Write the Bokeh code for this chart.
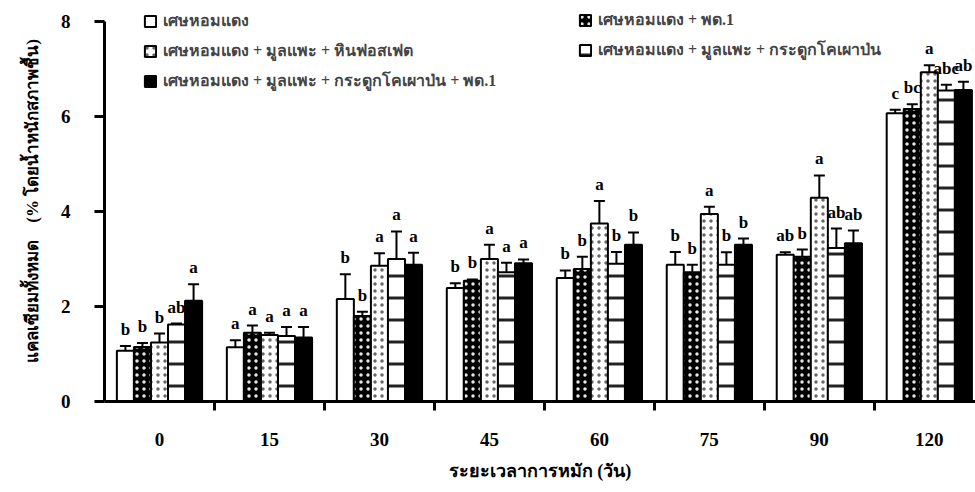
from bokeh.plotting import figure
from bokeh.models import (ColumnDataSource, Range1d, FixedTicker, Whisker, TeeHead,
                          Legend, LegendItem)
from bokeh.embed import file_html
from bokeh.resources import INLINE

# Composting time (days)
days = ["0", "15", "30", "45", "60", "75", "90", "120"]

series_names = [
    "เศษหอมแดง",
    "เศษหอมแดง + พด.1",
    "เศษหอมแดง + มูลแพะ + หินฟอสเฟต",
    "เศษหอมแดง + มูลแพะ + กระดูกโคเผาป่น",
    "เศษหอมแดง + มูลแพะ + กระดูกโคเผาป่น + พด.1",
]

# Total calcium (% wet weight), standard error and significance letters
onion_mean = [1.07, 1.14, 2.16, 2.39, 2.60, 2.88, 3.09, 6.07]
onion_err = [0.10, 0.15, 0.52, 0.10, 0.16, 0.27, 0.05, 0.07]
onion_sig = ["b", "a", "b", "b", "b", "b", "ab", "c"]

onion_pd_mean = [1.15, 1.45, 1.80, 2.54, 2.79, 2.72, 3.05, 6.16]
onion_pd_err = [0.08, 0.15, 0.09, 0.03, 0.26, 0.16, 0.15, 0.10]
onion_pd_sig = ["b", "a", "b", "b", "b", "b", "b", "bc"]

rock_mean = [1.24, 1.40, 2.86, 3.00, 3.75, 3.95, 4.29, 6.93]
rock_err = [0.19, 0.05, 0.26, 0.30, 0.47, 0.15, 0.47, 0.15]
rock_sig = ["b", "a", "a", "a", "a", "a", "a", "a"]

bone_mean = [1.62, 1.38, 3.00, 2.72, 2.90, 2.88, 3.23, 6.55]
bone_err = [0.02, 0.19, 0.58, 0.20, 0.25, 0.26, 0.41, 0.12]
bone_sig = ["ab", "a", "a", "a", "b", "b", "ab", "abc"]

bone_pd_mean = [2.12, 1.35, 2.88, 2.91, 3.30, 3.30, 3.33, 6.56]
bone_pd_err = [0.35, 0.22, 0.25, 0.08, 0.26, 0.13, 0.27, 0.17]
bone_pd_sig = ["a", "a", "a", "a", "b", "b", "ab", "ab"]

y_ticks = [0, 2, 4, 6, 8]

means = [onion_mean, onion_pd_mean, rock_mean, bone_mean, bone_pd_mean]
errs = [onion_err, onion_pd_err, rock_err, bone_err, bone_pd_err]
sigs = [onion_sig, onion_pd_sig, rock_sig, bone_sig, bone_pd_sig]

# bar styles: fill, hatch pattern, hatch colour, hatch scale, hatch weight
styles = [
    dict(fill_color="white", hatch_pattern=" ", hatch_color="white", hatch_scale=7, hatch_weight=1),
    dict(fill_color="black", hatch_pattern="dot", hatch_color="#e8e8e8", hatch_scale=7, hatch_weight=1),
    dict(fill_color="white", hatch_pattern="dot", hatch_color="#666666", hatch_scale=7, hatch_weight=1),
    dict(fill_color="white", hatch_pattern="horizontal_line", hatch_color="#222222", hatch_scale=22, hatch_weight=3),
    dict(fill_color="black", hatch_pattern=" ", hatch_color="black", hatch_scale=7, hatch_weight=1),
]

NUM_FONT = "Liberation Serif"
BAR_W = 0.155
offsets = [-2 * BAR_W, -BAR_W, 0.0, BAR_W, 2 * BAR_W]

# the frame runs to the top edge so the legend has room; the y axis line stops at 8
p = figure(width=975, height=492, x_range=Range1d(0, 7.92), y_range=Range1d(0, 8 * 401 / 380),
           output_backend="svg", toolbar_location=None,
           min_border_left=104, min_border_right=0, min_border_top=0, min_border_bottom=91)
p.outline_line_color = None
p.grid.visible = False
p.background_fill_color = "white"
p.border_fill_color = "white"

renderers = []
for k in range(5):
    xs = [i + 0.5 + offsets[k] for i in range(len(days))]
    src = ColumnDataSource(dict(
        x=xs, top=means[k],
        upper=[m + e for m, e in zip(means[k], errs[k])],
        lower=[m - e for m, e in zip(means[k], errs[k])],
        sig=sigs[k],
    ))
    r = p.vbar(x="x", top="top", bottom=0, width=BAR_W, source=src,
               line_color="black", line_width=2, **styles[k])
    renderers.append(r)
    w = Whisker(base="x", upper="upper", lower="lower", source=src, dimension="height",
                line_color="black", line_width=2,
                upper_head=TeeHead(size=11, line_width=2, line_color="black"),
                lower_head=TeeHead(size=11, line_width=2, line_color="black"))
    p.add_layout(w)
    p.text(x="x", y="upper", text="sig", source=src, text_align="center",
           text_baseline="bottom", y_offset=-7, text_font=NUM_FONT,
           text_font_style="bold", text_font_size="17px", text_color="black")

# axes
p.xaxis.ticker = FixedTicker(ticks=[i + 0.5 for i in range(len(days))],
                             minor_ticks=list(range(1, len(days))))
p.xaxis.major_label_overrides = {i + 0.5: d for i, d in enumerate(days)}
p.xaxis.major_tick_line_color = None
p.xaxis.major_tick_out = 0
p.xaxis.major_tick_in = 0
p.xaxis.minor_tick_out = 9
p.xaxis.minor_tick_in = 0
p.xaxis.minor_tick_line_width = 3
p.xaxis.minor_tick_line_color = "black"
p.xaxis.major_label_standoff = 22
p.xaxis.axis_label = "ระยะเวลาการหมัก (วัน)"
p.xaxis.axis_label_standoff = 12

p.yaxis.ticker = FixedTicker(ticks=y_ticks)
p.yaxis.bounds = (y_ticks[0], y_ticks[-1])
p.yaxis.minor_tick_line_color = None
p.yaxis.major_tick_out = 10
p.yaxis.major_tick_in = 0
p.yaxis.major_tick_line_width = 3
p.yaxis.major_label_standoff = 24
# non-breaking spaces keep the wide gap between the two parts of the title
p.yaxis.axis_label = "แคลเซียมทั้งหมด\u00a0\u00a0\u00a0\u00a0(% โดยน้ำหนักสภาพชื้น)"
p.yaxis.axis_label_standoff = 16

for ax in (p.xaxis, p.yaxis):
    ax.axis_line_width = 3
    ax.axis_line_color = "black"
    ax.major_label_text_font = NUM_FONT
    ax.major_label_text_font_style = "bold"
    ax.major_label_text_font_size = "19px"
    ax.major_label_text_color = "black"
    ax.axis_label_text_font = NUM_FONT
    ax.axis_label_text_font_style = "bold"
    ax.axis_label_text_font_size = "17px"
    ax.axis_label_text_color = "black"
p.xaxis.axis_label_text_font_size = "18px"


def make_legend(idx, loc):
    leg = Legend(items=[LegendItem(label=series_names[k], renderers=[renderers[k]]) for k in idx],
                 location=loc, orientation="vertical",
                 glyph_width=14, glyph_height=14, label_height=14, spacing=5,
                 padding=0, margin=0, border_line_color=None, background_fill_alpha=0,
                 label_text_font=NUM_FONT, label_text_font_style="bold",
                 label_text_font_size="16px", label_standoff=6)
    p.add_layout(leg)


make_legend([0, 2, 4], (39, 308))
make_legend([1, 3], (474, 339))

open("out.html", "w").write(file_html(p, INLINE))
